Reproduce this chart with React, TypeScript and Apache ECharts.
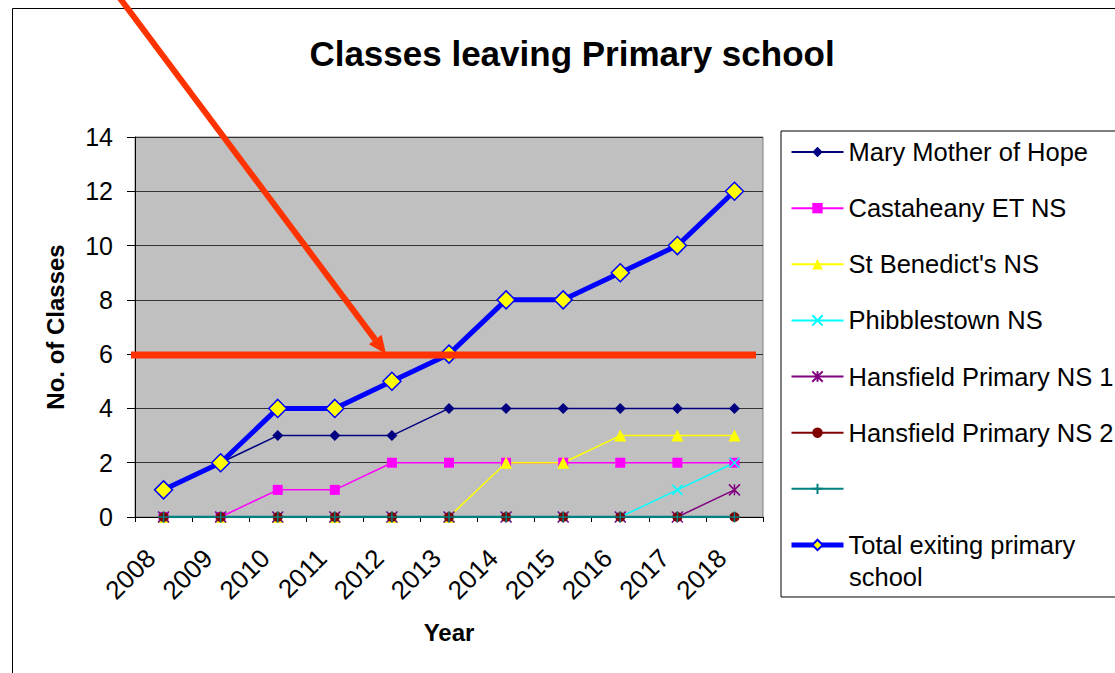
import React, { useEffect, useRef } from 'react';
import * as echarts from 'echarts';

const years = ['2008', '2009', '2010', '2011', '2012', '2013', '2014', '2015', '2016', '2017', '2018'];
const maryMotherOfHope = [1, 2, 3, 3, 3, 4, 4, 4, 4, 4, 4];
const castaheany = [0, 0, 1, 1, 2, 2, 2, 2, 2, 2, 2];
const stBenedicts = [0, 0, 0, 0, 0, 0, 2, 2, 3, 3, 3];
const phibblestown = [0, 0, 0, 0, 0, 0, 0, 0, 0, 1, 2];
const hansfield1 = [0, 0, 0, 0, 0, 0, 0, 0, 0, 0, 1];
const hansfield2 = [0, 0, 0, 0, 0, 0, 0, 0, 0, 0, 0];
const unnamedSeries = [0, 0, 0, 0, 0, 0, 0, 0, 0, 0, 0];
const totalExiting = [1, 2, 4, 4, 5, 6, 8, 8, 9, 10, 12];
const yTicks = { min: 0, max: 14, interval: 2 };

const TOTAL_NAME = 'Total exiting primary school';
const UNNAMED = 'Series 8';
const FONT = 'Liberation Sans';

const DIAMOND = 'path://M5,0L10,5L5,10L0,5Z';
const XMARK = 'path://M0,0L10,10M10,0L0,10';
const ASTER = 'path://M0,0L10,10M10,0L0,10M5,0L5,10';
const PLUS = 'path://M5,0L5,10M0,5L10,5';

function lineSeries(name: string, data: number[], color: string, symbol: string, size: number, extra: any = {}) {
  return {
    type: 'line',
    name,
    data,
    symbol,
    symbolSize: size,
    showSymbol: true,
    lineStyle: { color, width: 1.5 },
    itemStyle: { color, borderColor: color, borderWidth: 0 },
    emphasis: { disabled: true },
    ...extra,
  };
}

export default function App() {
  const ref = useRef<HTMLDivElement>(null);
  useEffect(() => {
    const chart = echarts.init(ref.current!, null, { renderer: 'svg' });
    const tipX = 386, tipY = 354;
    const ux = 0.599, uy = 0.801;
    const bx = tipX - ux * 18, by = tipY - uy * 18;
    const px = -uy * 8, py = ux * 8;
    chart.setOption({
      animation: false,
      backgroundColor: '#ffffff',
      textStyle: { fontFamily: FONT, color: '#000' },
      grid: {
        left: 135, right: 352, top: 137, bottom: 156,
        show: true, backgroundColor: '#c0c0c0', borderColor: '#808080', borderWidth: 1,
        containLabel: false,
      },
      legend: {
        orient: 'vertical',
        left: 781,
        top: 131,
        padding: [5, 60, 36, 8],
        itemGap: 24.14,
        itemWidth: 52,
        itemHeight: 13,
        borderColor: '#000',
        borderWidth: 1,
        backgroundColor: '#fff',
        selectedMode: false,
        textStyle: { fontFamily: FONT, fontSize: 25.5, color: '#000', lineHeight: 32 },
        formatter: (name: string) => (name === TOTAL_NAME ? 'Total exiting primary' : name === UNNAMED ? ' ' : name),
        data: [
          'Mary Mother of Hope', 'Castaheany ET NS', "St Benedict's NS", 'Phibblestown NS',
          'Hansfield Primary NS 1', 'Hansfield Primary NS 2', UNNAMED,
          { name: TOTAL_NAME, lineStyle: { width: 5, color: '#0000ff' } },
        ],
      },
      xAxis: {
        type: 'category',
        data: years,
        boundaryGap: true,
        name: 'Year',
        nameLocation: 'middle',
        nameGap: 103,
        nameTextStyle: { fontFamily: FONT, fontSize: 24, fontWeight: 'bold', color: '#000' },
        axisLine: { show: true, lineStyle: { color: '#000', width: 1 } },
        axisTick: { show: true, interval: 0, length: 5, alignWithLabel: false, lineStyle: { color: '#000' } },
        axisLabel: { interval: 0, rotate: 45, fontSize: 26, margin: 24, padding: [0, 18, 0, 0], color: '#000', fontFamily: FONT },
        splitLine: { show: false },
      },
      yAxis: {
        type: 'value',
        min: yTicks.min,
        max: yTicks.max,
        interval: yTicks.interval,
        name: 'No. of Classes',
        nameLocation: 'middle',
        nameGap: 68,
        nameTextStyle: { fontFamily: FONT, fontSize: 24, fontWeight: 'bold', color: '#000' },
        axisLine: { show: true, lineStyle: { color: '#000', width: 1 } },
        axisTick: { show: true, length: 8, lineStyle: { color: '#000' } },
        axisLabel: { fontSize: 25, margin: 22, color: '#000', fontFamily: FONT },
        splitLine: { show: true, lineStyle: { color: '#333', width: 1 } },
      },
      series: [
        lineSeries('Mary Mother of Hope', maryMotherOfHope, '#000080', DIAMOND, 11),
        lineSeries('Castaheany ET NS', castaheany, '#ff00ff', 'rect', 10),
        lineSeries("St Benedict's NS", stBenedicts, '#ffff00', 'triangle', 12),
        lineSeries('Phibblestown NS', phibblestown, '#00ffff', XMARK, 10, { itemStyle: { color: '#00ffff', borderColor: '#00ffff', borderWidth: 1.5 } }),
        lineSeries('Hansfield Primary NS 1', hansfield1, '#800080', ASTER, 11, { itemStyle: { color: '#800080', borderColor: '#800080', borderWidth: 1.5 } }),
        lineSeries('Hansfield Primary NS 2', hansfield2, '#800000', 'circle', 10),
        lineSeries(UNNAMED, unnamedSeries, '#008080', PLUS, 11, {
          lineStyle: { color: '#008080', width: 2.5 },
          itemStyle: { color: '#008080', borderColor: '#008080', borderWidth: 1.5 },
        }),
        lineSeries(TOTAL_NAME, totalExiting, '#0000ff', DIAMOND, 18, {
          lineStyle: { color: '#0000ff', width: 5 },
          itemStyle: { color: '#ffff00', borderColor: '#0000ff', borderWidth: 1.5 },
        }),
      ],
      graphic: [
        {
          type: 'rect', silent: true, z: 0, zlevel: 0,
          shape: { x: 12.5, y: 8.5, width: 1200, height: 800 },
          style: { fill: 'none', stroke: '#000', lineWidth: 1 },
        },
        {
          type: 'text', x: 572, y: 53, silent: true, z: 100,
          style: { text: 'Classes leaving Primary school', fontFamily: FONT, fontSize: 35, fontWeight: 'bold', fill: '#000', align: 'center', verticalAlign: 'middle' },
        },
        {
          type: 'text', x: 849, y: 577, silent: true, z: 100,
          style: { text: 'school', fontFamily: FONT, fontSize: 25.5, fill: '#000', align: 'left', verticalAlign: 'middle' },
        },
        {
          type: 'line', silent: true, z: 100,
          shape: { x1: 131, y1: 355, x2: 756, y2: 355 },
          style: { stroke: '#ff3300', lineWidth: 7 },
        },
        {
          type: 'line', silent: true, z: 100,
          shape: { x1: tipX - ux * 460, y1: tipY - uy * 460, x2: bx, y2: by },
          style: { stroke: '#ff3300', lineWidth: 6 },
        },
        {
          type: 'polygon', silent: true, z: 100,
          shape: { points: [[tipX, tipY], [bx + px, by + py], [bx - px, by - py]] },
          style: { fill: '#ff3300' },
        },
      ],
    });
    return () => chart.dispose();
  }, []);
  return <div ref={ref} style={{ position: 'fixed', left: 0, top: 0, width: 1115, height: 673, background: '#fff' }} />;
}
